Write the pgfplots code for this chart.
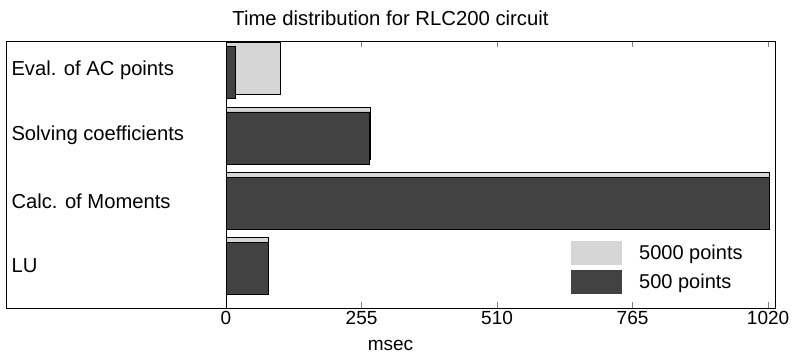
\documentclass[border=0pt]{standalone}
\usepackage{fontspec}
\setmainfont{Liberation Sans}
\usepackage{pgfplots}
\pgfplotsset{compat=1.18}
\usetikzlibrary{calc}
\definecolor{lightbar}{gray}{0.84}
\definecolor{darkbar}{gray}{0.26}
\begin{document}
\begin{tikzpicture}
\begin{axis}[
  scale only axis, width=769bp, height=267bp,
  xmin=-414, xmax=1033, ymin=0.356, ymax=4.451,
  xtick={0,255,510,765,1020},
  tick align=inside, xtick pos=both, major tick length=6bp,
  ytick={1,2,3,4},
  yticklabels={LU, Calc. of Moments, Solving coefficients, Eval. of AC points},
  ytick style={draw=none},
  yticklabel style={anchor=west, xshift=8bp, font=\fontsize{20.2bp}{24bp}\selectfont},
  xticklabel style={font=\fontsize{19bp}{23bp}\selectfont},
  title style={font=\fontsize{20.3bp}{24bp}\selectfont, yshift=6bp},
  xlabel style={font=\fontsize{19bp}{23bp}\selectfont, yshift=-8bp},
  title={Time distribution for RLC200 circuit},
  xlabel={msec},
  /pgf/number format/assume math mode=true,
  /pgf/number format/1000 sep={},
  axis line style={black, line width=0.8bp},
  xbar, bar width=0.8,
  legend style={at={(0.7347,0.251)}, anchor=north west, draw=none, fill=none,
    inner sep=0pt, row sep=5bp, column sep=16bp,
    nodes={inner sep=1bp, font=\fontsize{20bp}{24bp}\selectfont},
    cells={anchor=west}},
  legend image code/.code={\fill[#1, draw=none] (0bp,-12bp) rectangle (51bp,12bp);},
]
\addplot[fill=lightbar, draw=black, line width=0.6bp, bar shift=0.035]
  coordinates {(80,1) (1023,2) (271,3) (102,4)};
\addlegendentry{5000 points}
\addplot[fill=darkbar, draw=black, line width=0.6bp, bar shift=-0.035]
  coordinates {(79,1) (1022,2) (270,3) (17,4)};
\addlegendentry{500 points}
\addplot[sharp plot, black, line width=0.8bp, mark=none, forget plot]
  coordinates {(0,0.356) (0,4.451)};
\end{axis}
\pgfresetboundingbox
\useasboundingbox ($(current axis.south west)+(-6bp,-48bp)$) rectangle ($(current axis.north east)+(20bp,41bp)$);
\end{tikzpicture}
\end{document}
